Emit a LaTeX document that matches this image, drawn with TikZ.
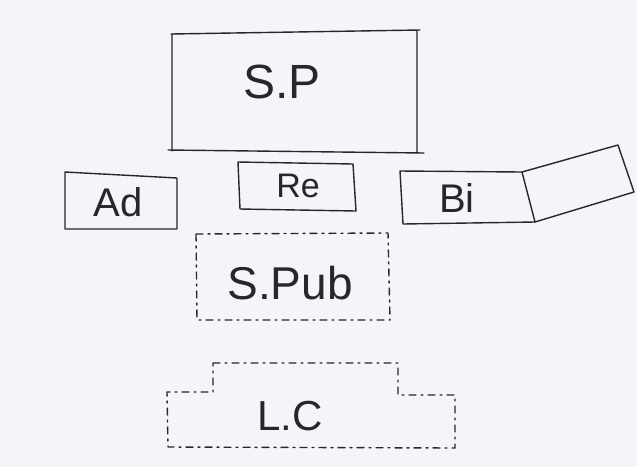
\documentclass[tikz,border=0pt]{standalone}
\usepackage{fontspec}
\setmainfont{Liberation Sans}
\definecolor{paper}{RGB}{243,245,248}
\definecolor{pencil}{RGB}{40,38,42}
\tikzset{
  line/.style={draw=pencil, line width=1.4pt, line join=round, line cap=round},
  dline/.style={line, dash pattern=on 7pt off 5pt on 2pt off 5pt},
  lbl/.style={text=pencil, inner sep=0pt}
}
\begin{document}
\begin{tikzpicture}[x=1pt,y=-1pt]
\useasboundingbox (0,0) rectangle (637,467);
\fill[paper] (0,0) rectangle (637,467);
% S.P
\draw[line] (171,34) -- (420,30) (168,150) -- (424,153) (172,34) -- (172,151) (417,30) -- (417,153);
\node[lbl, font=\fontsize{48}{48}\selectfont] (sp) at (282,82) {S.P};
% Re
\draw[line] (238,162) -- (353,164) -- (356,211) -- (240,209) -- cycle;
\node[lbl, font=\fontsize{34}{34}\selectfont] (re) at (298,186) {Re};
% Ad
\draw[line] (65,172) -- (177,178) -- (177,229) -- (65,229) -- cycle;
\node[lbl, font=\fontsize{40}{40}\selectfont] (ad) at (118,202) {Ad};
% Bi
\draw[line] (400,171) -- (522,172) -- (535,222) -- (403,224) -- cycle;
\draw[line] (522,172) -- (618,145) -- (634,192) -- (535,222);
\node[lbl, font=\fontsize{40}{40}\selectfont] (bi) at (457,198) {Bi};
% S.Pub
\draw[dline] (196,234) -- (388,233) -- (390,320) -- (197,320) -- cycle;
\node[lbl, font=\fontsize{46}{46}\selectfont] (spub) at (290,283) {S.Pub};
% L.C
\draw[dline] (213,363) -- (398,363) -- (398,395) -- (455,395) -- (455,448) -- (168,447) -- (167,392) -- (213,392) -- cycle;
\node[lbl, font=\fontsize{42}{42}\selectfont] (lc) at (290,416) {L.C};
\end{tikzpicture}
\end{document}
